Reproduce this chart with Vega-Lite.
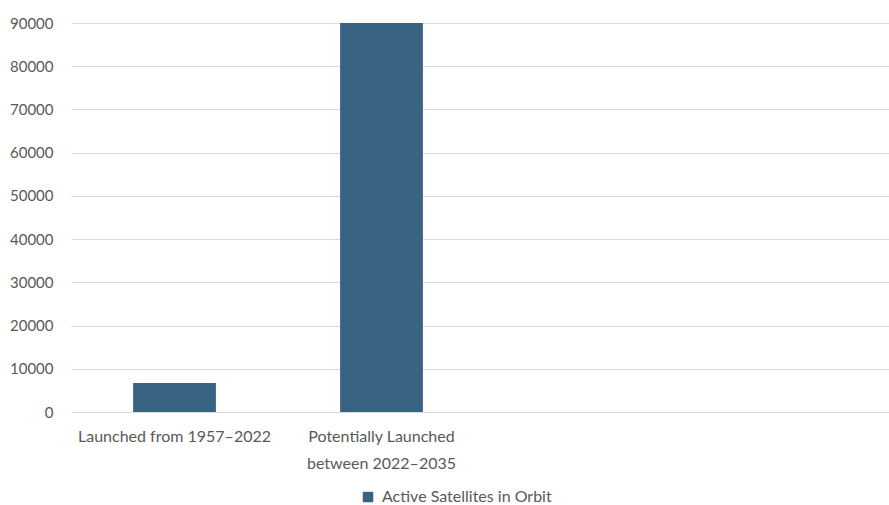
{
  "$schema": "https://vega.github.io/schema/vega-lite/v6.json",
  "autosize": {"type": "none"},
  "width": 828,
  "height": 389,
  "padding": {"left": 71, "top": 23, "right": -10, "bottom": 93},
  "background": "white",
  "data": {"values": [
    {"category": "Launched from 1957–2022", "series": "Active Satellites in Orbit", "value": 6700},
    {"category": "Potentially Launched between 2022–2035", "series": "Active Satellites in Orbit", "value": 90000}
  ]},
  "mark": {"type": "bar"},
  "encoding": {
    "x": {
      "field": "category", "type": "nominal", "sort": null,
      "scale": {"domain": ["Launched from 1957–2022", "Potentially Launched between 2022–2035", " ", "  "], "paddingInner": 0.6, "paddingOuter": 0.3},
      "axis": {
        "title": null, "labelAngle": 0, "ticks": false, "domain": false,
        "labelFont": "Lato", "labelFontSize": 16, "labelColor": "#595959", "labelPadding": 16,
        "labelLineHeight": 27, "labelLimit": 0, "labelOverlap": false,
        "labelExpr": "datum.label == 'Potentially Launched between 2022–2035' ? ['Potentially Launched', 'between 2022–2035'] : datum.label"
      }
    },
    "y": {
      "field": "value", "type": "quantitative",
      "scale": {"domain": [0, 90000], "nice": false},
      "axis": {
        "title": null, "values": [0,10000,20000,30000,40000,50000,60000,70000,80000,90000],
        "ticks": false, "domain": false, "format": "d", "labelOverlap": false,
        "labelFont": "Lato", "labelFontSize": 15, "labelColor": "#595959", "labelPadding": 18,
        "gridColor": "#d9d9d9", "gridWidth": 1
      }
    },
    "color": {
      "field": "series", "type": "nominal",
      "scale": {"range": ["#386383"]},
      "legend": {
        "title": null, "orient": "none", "legendX": 289, "legendY": 466, "direction": "horizontal",
        "symbolType": "square", "symbolSize": 110, "symbolStrokeWidth": 0,
        "labelFont": "Lato", "labelFontSize": 16, "labelColor": "#595959", "labelOffset": 6, "labelLimit": 0
      }
    }
  },
  "config": {"view": {"stroke": null}}
}
